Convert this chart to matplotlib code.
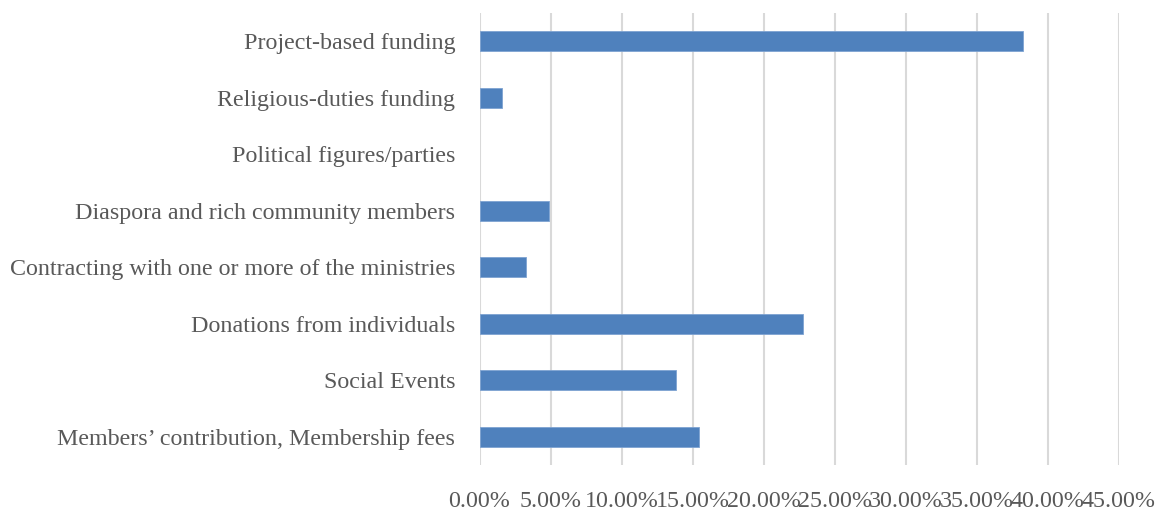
import matplotlib
matplotlib.use('Agg')
import matplotlib.pyplot as plt
from matplotlib.ticker import FuncFormatter, MultipleLocator

categorias = [
    'Members\u2019 contribution, Membership fees',
    'Social Events',
    'Donations from individuals',
    'Contracting with one or more of the ministries',
    'Diaspora and rich community members',
    'Political figures/parties',
    'Religious-duties funding',
    'Project-based funding',
]
percentuais = [15.45, 13.83, 22.78, 3.26, 4.88, 0.0, 1.61, 38.25]

plt.rcParams['font.family'] = ['Liberation Serif', 'DejaVu Serif']

fig = plt.figure(figsize=(11.6, 5.14), dpi=100)
ax = fig.add_axes([0.4134, 0.0953, 0.5510, 0.8799])

pos = list(range(len(categorias)))
# barras vazias (0%) ficam sem contorno
bordas = [0.6 if v > 0 else 0 for v in percentuais]
ax.barh(pos, percentuais, height=0.355, color='#4f81bd',
        edgecolor='#7ea3d2', linewidth=bordas, zorder=3)

ax.set_xlim(0, 45)
ax.set_ylim(-0.5, len(categorias) - 0.5)
ax.xaxis.set_major_locator(MultipleLocator(5))
ax.xaxis.set_major_formatter(FuncFormatter(lambda v, p: '%.2f%%' % v))
ax.set_yticks(pos)
ax.set_yticklabels(categorias)

ax.grid(axis='x', color='#d9d9d9', linewidth=1.5, zorder=0)
for s in ax.spines.values():
    s.set_visible(False)
ax.tick_params(axis='y', length=0, pad=17.5, labelsize=17.3, labelcolor='#595959')
ax.tick_params(axis='x', length=0, pad=19, labelsize=17.3, labelcolor='#595959')

fig.savefig('out.png', dpi=100)
